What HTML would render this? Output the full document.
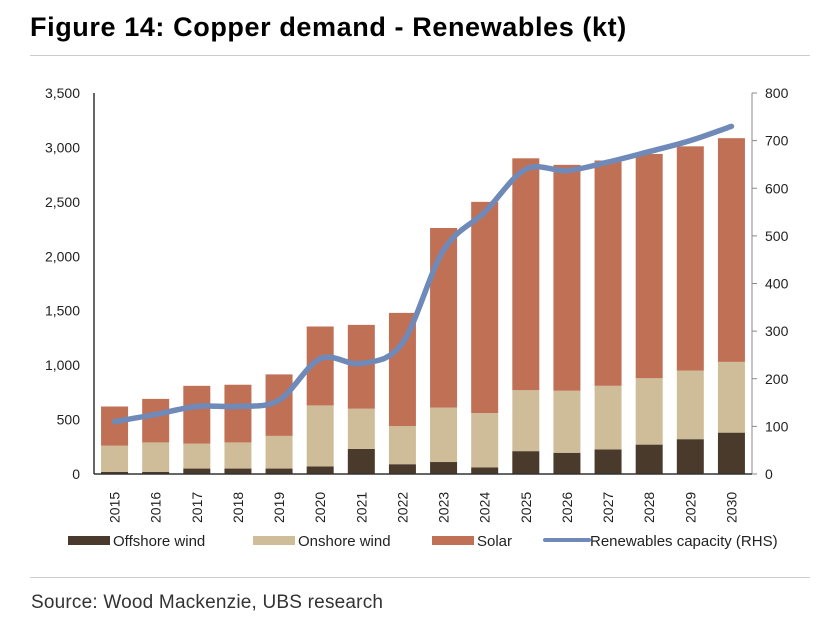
<!DOCTYPE html>
<html><head><meta charset="utf-8"><style>
body{margin:0;background:#fff;width:831px;height:629px;overflow:hidden;font-family:"Liberation Sans",sans-serif}
</style></head><body>
<div style="position:absolute;left:30px;top:12px;font-size:27px;font-weight:bold;color:#000;letter-spacing:0.6px">Figure 14: Copper demand - Renewables (kt)</div>
<div style="position:absolute;left:30px;top:55px;width:780px;height:1px;background:#ccc"></div>
<svg id="c" width="831" height="629" style="position:absolute;left:0;top:0"></svg>
<div style="position:absolute;left:30px;top:577px;width:780px;height:1px;background:#ccc"></div>
<div style="position:absolute;left:31px;top:592px;font-size:19px;color:#333;letter-spacing:0.2px">Source: Wood Mackenzie, UBS research</div>
<script>
const years=["2015","2016","2017","2018","2019","2020","2021","2022","2023","2024","2025","2026","2027","2028","2029","2030"];
const offshore=[20,20,50,50,50,70,230,90,110,60,210,195,225,270,320,380];
const onshore=[240,270,230,240,300,560,370,350,500,500,560,570,585,610,630,650];
const solar=[360,400,530,530,565,725,770,1040,1650,1940,2130,2075,2070,2060,2060,2055];
const capacity=[110,125,142,142,155,242,232,275,470,550,640,637,655,677,700,730];
const leftTicks=[0,500,1000,1500,2000,2500,3000,3500];
const rightTicks=[0,100,200,300,400,500,600,700,800];
const NS="http://www.w3.org/2000/svg",svg=document.getElementById("c");
const X0=94,X1=752,Y0=474,YT=93;
const yL=v=>Y0-(v/3500)*(Y0-YT), yR=v=>Y0-(v/800)*(Y0-YT);
const step=(X1-X0)/years.length, xc=i=>X0+step*(i+0.5), BW=27;
function el(t,a,txt){const e=document.createElementNS(NS,t);for(const k in a)e.setAttribute(k,a[k]);if(txt!=null)e.textContent=txt;svg.appendChild(e);return e;}
let e=el("line",{x1:X0,y1:YT,x2:X0,y2:Y0,stroke:"#333","stroke-width":1.5});

e=el("line",{x1:X1,y1:YT,x2:X1,y2:Y0,stroke:"#888","stroke-width":1});

leftTicks.forEach(v=>{const t=el("text",{x:80,y:yL(v)+5,"text-anchor":"end","font-size":14,fill:"#222"},v.toLocaleString("en-US"));
});
rightTicks.forEach(v=>{el("line",{x1:X1,y1:yR(v),x2:X1+5,y2:yR(v),stroke:"#888"});
const t=el("text",{x:765,y:yR(v)+5,"font-size":14,fill:"#222"},v);
});
const cols=["#4a3a2c","#cfbd9a","#c07055"];
years.forEach((y,i)=>{let base=0;[offshore[i],onshore[i],solar[i]].forEach((v,k)=>{
const r=el("rect",{x:xc(i)-BW/2,y:yL(base+v),width:BW,height:yL(base)-yL(base+v),fill:cols[k]});
base+=v;});
const t=el("text",{transform:`translate(${xc(i)+5},${523}) rotate(-90)`,"font-size":14,fill:"#222"},y);
});
e=el("line",{x1:X0,y1:Y0,x2:X1,y2:Y0,stroke:"#333","stroke-width":1.5});

const pts=capacity.map((v,i)=>[xc(i),yR(v)]);
let d=`M${pts[0][0]},${pts[0][1]}`;
for(let i=0;i<pts.length-1;i++){const p0=pts[Math.max(i-1,0)],p1=pts[i],p2=pts[i+1],p3=pts[Math.min(i+2,pts.length-1)];
d+=` C${p1[0]+(p2[0]-p0[0])/6},${p1[1]+(p2[1]-p0[1])/6} ${p2[0]-(p3[0]-p1[0])/6},${p2[1]-(p3[1]-p1[1])/6} ${p2[0]},${p2[1]}`;}
e=el("path",{d:d,fill:"none",stroke:"#6f8ab8","stroke-width":5.5,"stroke-linecap":"round"});

const leg=[["Offshore wind",68,"rect",cols[0]],["Onshore wind",253,"rect",cols[1]],["Solar",432,"rect",cols[2]],["Renewables capacity (RHS)",545,"line","#6f8ab8"]];
leg.forEach(([n,x,t,c])=>{
if(t=="rect")el("rect",{x:x,y:536,width:42,height:9,fill:c});else el("line",{x1:x,y1:540,x2:x+44,y2:540,stroke:c,"stroke-width":4,"stroke-linecap":"round"});
const tx=el("text",{x:x+45,y:546,"font-size":15,fill:"#222"},n);
});
</script>
</body></html>
